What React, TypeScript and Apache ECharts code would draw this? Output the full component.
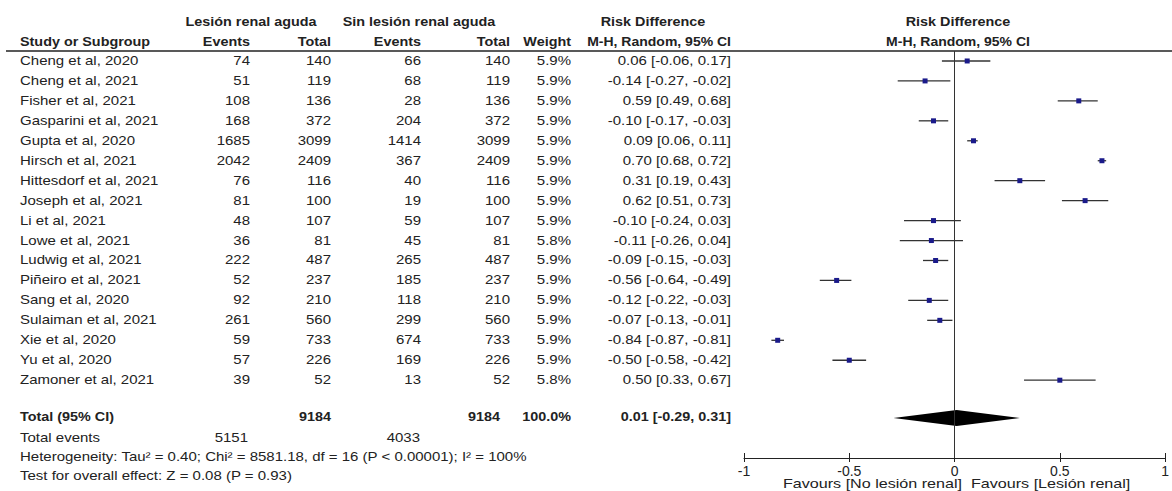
import React, { useEffect, useRef } from "react";
import * as echarts from "echarts";

const studies = [
  "Cheng et al, 2020",
  "Cheng et al, 2021",
  "Fisher et al, 2021",
  "Gasparini et al, 2021",
  "Gupta et al, 2020",
  "Hirsch et al, 2021",
  "Hittesdorf et al, 2021",
  "Joseph et al, 2021",
  "Li et al, 2021",
  "Lowe et al, 2021",
  "Ludwig et al, 2021",
  "Piñeiro et al, 2021",
  "Sang et al, 2020",
  "Sulaiman et al, 2021",
  "Xie et al, 2020",
  "Yu et al, 2020",
  "Zamoner et al, 2021",
];
const eventsAKI = [74, 51, 108, 168, 1685, 2042, 76, 81, 48, 36, 222, 52, 92, 261, 59, 57, 39];
const totalAKI = [140, 119, 136, 372, 3099, 2409, 116, 100, 107, 81, 487, 237, 210, 560, 733, 226, 52];
const eventsNoAKI = [66, 68, 28, 204, 1414, 367, 40, 19, 59, 45, 265, 185, 118, 299, 674, 169, 13];
const totalNoAKI = [140, 119, 136, 372, 3099, 2409, 116, 100, 107, 81, 487, 237, 210, 560, 733, 226, 52];
const weights = ["5.9%", "5.9%", "5.9%", "5.9%", "5.9%", "5.9%", "5.9%", "5.9%", "5.9%", "5.8%", "5.9%", "5.9%", "5.9%", "5.9%", "5.9%", "5.9%", "5.8%"];
const rd = [0.06, -0.14, 0.59, -0.1, 0.09, 0.7, 0.31, 0.62, -0.1, -0.11, -0.09, -0.56, -0.12, -0.07, -0.84, -0.5, 0.5];
const rdLow = [-0.06, -0.27, 0.49, -0.17, 0.06, 0.68, 0.19, 0.51, -0.24, -0.26, -0.15, -0.64, -0.22, -0.13, -0.87, -0.58, 0.33];
const rdHigh = [0.17, -0.02, 0.68, -0.03, 0.11, 0.72, 0.43, 0.73, 0.03, 0.04, -0.03, -0.49, -0.03, -0.01, -0.81, -0.42, 0.67];

const pooled = { est: 0.01, low: -0.29, high: 0.31 };
const totals = { aki: 9184, noAki: 9184, weight: "100.0%", eventsAki: 5151, eventsNoAki: 4033 };
const xTicks = [-1, -0.5, 0, 0.5, 1];
const heterogeneityText = "Heterogeneity: Tau² = 0.40; Chi² = 8581.18, df = 16 (P < 0.00001); I² = 100%";
const overallText = "Test for overall effect: Z = 0.08 (P = 0.93)";
const favoursLeft = "Favours [No lesión renal]";
const favoursRight = "Favours [Lesión renal]";

const fmt = (v: number) => v.toFixed(2);
const ciLabel = (e: number, l: number, h: number) => `${fmt(e)} [${fmt(l)}, ${fmt(h)}]`;

const ROW0 = 61;
const ROWH = 19.94;
const TOTAL_ROW = 17.85;
const FONT = "'Liberation Sans', Arial, sans-serif";
const SX = 1.2;
const TEXT = "#222";

function txt(text: string, x: number, y: number, align: string, bold = false, size = 12.5, sx = SX): any {
  return {
    type: "text",
    x,
    y,
    scaleX: sx,
    silent: true,
    style: {
      text,
      fill: TEXT,
      font: `${bold ? "bold " : ""}${size}px ${FONT}`,
      textAlign: align,
      align,
      textVerticalAlign: "middle",
      verticalAlign: "middle",
    },
  };
}

export default function App() {
  const ref = useRef<HTMLDivElement>(null);
  useEffect(() => {
    if (!ref.current) return;
    const chart = echarts.init(ref.current, undefined, { renderer: "svg" });

    const graphics: any[] = [];
    // headers
    graphics.push(txt("Lesión renal aguda", 251, 22, "center", true, 12.5, 1.15));
    graphics.push(txt("Sin lesión renal aguda", 419, 22, "center", true, 12.5, 1.15));
    graphics.push(txt("Risk Difference", 653, 22, "center", true, 12.5, 1.15));
    graphics.push(txt("Risk Difference", 958, 22, "center", true, 12.5, 1.15));
    graphics.push(txt("Study or Subgroup", 20, 42, "left", true, 12.5, 1.15));
    graphics.push(txt("Events", 250, 42, "right", true, 12.5, 1.15));
    graphics.push(txt("Total", 331, 42, "right", true, 12.5, 1.15));
    graphics.push(txt("Events", 421, 42, "right", true, 12.5, 1.15));
    graphics.push(txt("Total", 510, 42, "right", true, 12.5, 1.15));
    graphics.push(txt("Weight", 571, 42, "right", true, 12.5, 1.15));
    graphics.push(txt("M-H, Random, 95% CI", 731, 42, "right", true, 12.5, 1.12));
    graphics.push(txt("M-H, Random, 95% CI", 958, 42, "center", true, 12.5, 1.12));
    graphics.push({
      type: "line",
      silent: true,
      shape: { x1: 6, y1: 51, x2: 1172, y2: 51 },
      style: { stroke: "#222", lineWidth: 1.5 },
    });

    studies.forEach((s, i) => {
      const y = ROW0 + ROWH * i;
      graphics.push(txt(s, 20, y, "left"));
      graphics.push(txt(String(eventsAKI[i]), 250, y, "right"));
      graphics.push(txt(String(totalAKI[i]), 331, y, "right"));
      graphics.push(txt(String(eventsNoAKI[i]), 421, y, "right"));
      graphics.push(txt(String(totalNoAKI[i]), 510, y, "right"));
      graphics.push(txt(weights[i], 571, y, "right"));
      graphics.push(txt(ciLabel(rd[i], rdLow[i], rdHigh[i]), 731, y, "right"));
    });

    const yTot = ROW0 + ROWH * TOTAL_ROW;
    graphics.push(txt("Total (95% CI)", 20, yTot, "left", true, 12.5, 1.15));
    graphics.push(txt(String(totals.aki), 331, yTot, "right", true, 12.5, 1.15));
    graphics.push(txt(String(totals.noAki), 500, yTot, "right", true, 12.5, 1.15));
    graphics.push(txt(totals.weight, 571, yTot, "right", true, 12.5, 1.15));
    graphics.push(txt(ciLabel(pooled.est, pooled.low, pooled.high), 731, yTot, "right", true, 12.5, 1.15));

    graphics.push(txt("Total events", 20, 438, "left"));
    graphics.push(txt(String(totals.eventsAki), 248, 438, "right"));
    graphics.push(txt(String(totals.eventsNoAki), 420, 438, "right"));
    graphics.push(txt(heterogeneityText, 20, 457, "left"));
    graphics.push(txt(overallText, 20, 476, "left"));

    graphics.push(txt(favoursLeft, 962, 484, "right", false, 12.5, 1.29));
    graphics.push(txt(favoursRight, 971, 484, "left", false, 12.5, 1.29));

    const studyData = studies.map((_, i) => [rd[i], rdLow[i], rdHigh[i], i]);

    chart.setOption({
      animation: false,
      grid: { left: 744, right: 2, top: 51, bottom: 33, containLabel: false },
      xAxis: [
        {
          type: "value",
          position: "bottom",
          min: -1,
          max: 1,
          interval: 0.5,
          splitLine: { show: false },
          axisLine: { show: true, onZero: false, lineStyle: { color: "#222", width: 1 } },
          axisTick: { show: true, inside: false, length: 4, lineStyle: { color: "#222", width: 1 } },
          axisLabel: {
            show: true,
            color: "#222",
            fontSize: 14,
            fontFamily: FONT,
            margin: 6,
            formatter: (v: number) => (xTicks.includes(v) ? String(v) : ""),
          },
        },
        {
          type: "value",
          position: "bottom",
          min: -1,
          max: 1,
          interval: 0.5,
          splitLine: { show: false },
          axisLine: { show: false, onZero: false },
          axisTick: { show: true, inside: true, length: 5, lineStyle: { color: "#222", width: 1 } },
          axisLabel: { show: false },
        },
      ],
      yAxis: {
        type: "value",
        inverse: true,
        min: -0.5,
        max: 19.9,
        show: false,
      },
      graphic: graphics,
      series: [
        {
          type: "custom",
          name: "studies",
          xAxisIndex: 0,
          encode: { x: [0, 1, 2], y: 3 },
          data: studyData,
          silent: true,
          renderItem: (params: any, api: any) => {
            const y = api.value(3);
            const p = api.coord([api.value(0), y]);
            const l = api.coord([api.value(1), y]);
            const h = api.coord([api.value(2), y]);
            return {
              type: "group",
              children: [
                {
                  type: "line",
                  shape: { x1: l[0], y1: l[1], x2: h[0], y2: h[1] },
                  style: { stroke: "#333", lineWidth: 1.3 },
                },
                {
                  type: "rect",
                  shape: { x: p[0] - 2.5, y: p[1] - 2.5, width: 5, height: 5 },
                  style: { fill: "#1a1a8a" },
                },
              ],
            };
          },
          markLine: {
            silent: true,
            symbol: ["none", "none"],
            label: { show: false },
            lineStyle: { color: "#333", width: 1, type: "solid" },
            data: [{ xAxis: 0 }],
          },
        },
        {
          type: "custom",
          name: "pooled",
          xAxisIndex: 0,
          encode: { x: [0, 1, 2], y: 3 },
          data: [[pooled.est, pooled.low, pooled.high, TOTAL_ROW + 0.05]],
          silent: true,
          renderItem: (params: any, api: any) => {
            const y = api.value(3);
            const c = api.coord([api.value(0), y]);
            const l = api.coord([api.value(1), y]);
            const h = api.coord([api.value(2), y]);
            return {
              type: "polygon",
              shape: {
                points: [
                  [l[0], l[1]],
                  [c[0], c[1] - 8],
                  [h[0], h[1]],
                  [c[0], c[1] + 8],
                ],
              },
              style: { fill: "#000" },
            };
          },
        },
      ],
    });
    return () => chart.dispose();
  }, []);
  return (
    <div
      ref={ref}
      style={{ position: "absolute", left: 0, top: 0, width: 1172, height: 491, background: "#fff" }}
    />
  );
}
